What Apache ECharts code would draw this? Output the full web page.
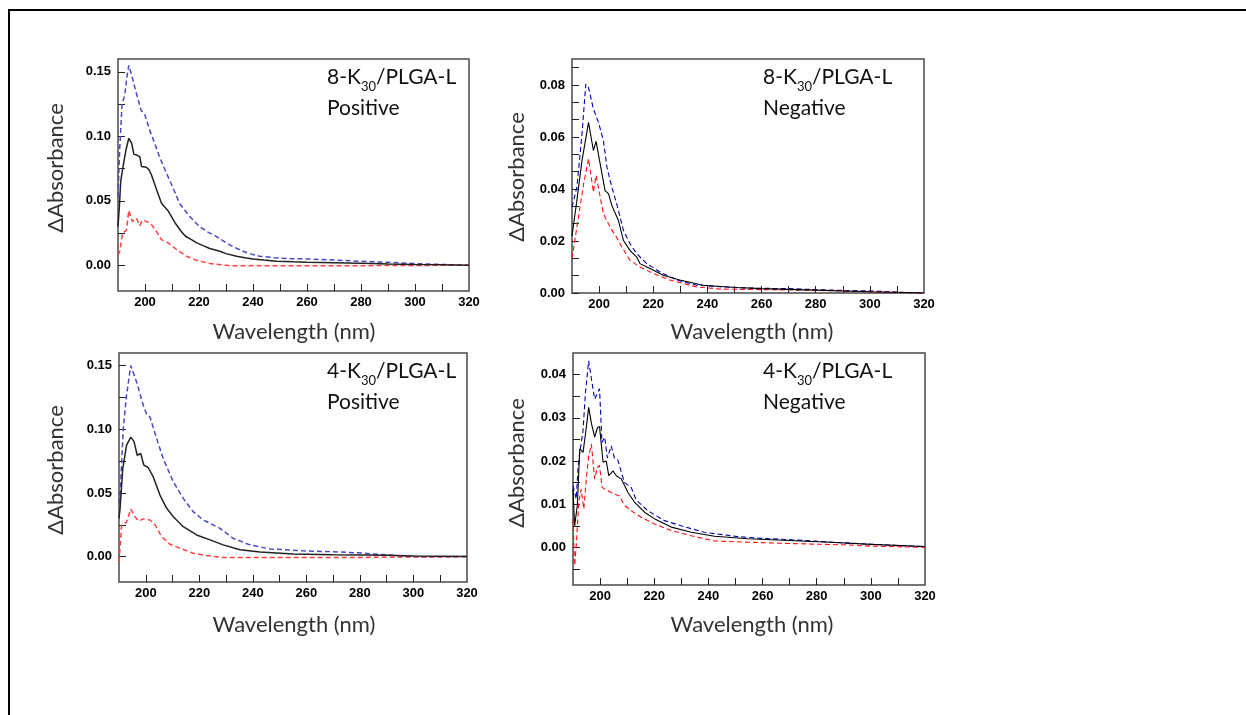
<!DOCTYPE html>
<html>
<head>
<meta charset="utf-8">
<script src="https://cdn.jsdelivr.net/npm/echarts@6/dist/echarts.min.js"></script>
<style>
html,body{margin:0;padding:0;background:#fff;}
#chart{width:1246px;height:715px;}
</style>
</head>
<body>
<div id="chart"></div>
<script>
// ---------- DATA ----------
// x tick / label values (nm)
const xTicks = [200,210,220,230,240,250,260,270,280,290,300,310];
const xLabels = [200,220,240,260,280,300,320];

// y ticks / labels per panel
const yTicksPos = [0,0.025,0.05,0.075,0.1,0.125,0.15];
const yLabelsPos = [0,0.05,0.10,0.15];
const yTicks8Neg = [0,0.00667,0.01333,0.02,0.02667,0.03333,0.04,0.04667,0.05333,0.06,0.06667,0.07333,0.08,0.08667];
const yLabels8Neg = [0,0.02,0.04,0.06,0.08];
const yTicks4Neg = [-0.005,0,0.005,0.01,0.015,0.02,0.025,0.03,0.035,0.04];
const yLabels4Neg = [0,0.01,0.02,0.03,0.04];

// Panel 1: 8-K30/PLGA-L Positive  [wavelength nm, dAbsorbance]
const p1Blue = [[190,0.053],[190.6,0.089],[191.5,0.125],[192.5,0.132],[193.2,0.145],[194,0.155],[195,0.148],[196.2,0.138],[197.5,0.128],[198.6,0.12],[199.9,0.117],[201.7,0.105],[203.5,0.095],[205.4,0.084],[207.2,0.075],[209.1,0.066],[211,0.057],[212.8,0.048],[214.6,0.043],[216.5,0.038],[218.3,0.034],[220.2,0.030],[223,0.026],[226.4,0.0224],[230.1,0.0173],[233,0.014],[236.3,0.0108],[239,0.0088],[242.5,0.007],[248,0.0058],[254.8,0.005],[260,0.0049],[270,0.004],[279.5,0.0031],[289.4,0.0023],[299.3,0.0013],[310,0.0006],[320,0]];
const p1Black = [[190,0.03],[190.5,0.045],[191,0.065],[192,0.078],[193,0.09],[194,0.0985],[195,0.095],[195.9,0.086],[197,0.0855],[198.1,0.084],[198.7,0.0766],[200.5,0.076],[201.5,0.074],[202.4,0.070],[204.3,0.0585],[206.1,0.048],[208.6,0.042],[211.1,0.033],[213.5,0.026],[215,0.0225],[217.2,0.0199],[219,0.0175],[221.5,0.0152],[224,0.013],[227.7,0.0108],[230,0.009],[233.9,0.007],[237,0.0058],[240,0.0049],[244,0.004],[248.7,0.0031],[255,0.0026],[260,0.0023],[270,0.0019],[284.4,0.0013],[290,0.001],[300,0.0006],[310,0.0003],[320,0]];
const p1Red = [[190,0.008],[190.7,0.011],[191.7,0.025],[193.1,0.027],[194,0.0425],[195.3,0.034],[196.8,0.0365],[198.1,0.0307],[199,0.035],[200.5,0.034],[202.4,0.0315],[204.3,0.026],[206.1,0.0199],[208.6,0.0173],[211.7,0.0122],[215.4,0.007],[219.1,0.0038],[224,0.0013],[230,0],[232,-0.0005],[240,-0.0003],[260,-0.0004],[280,-0.0004],[290,-0.0002],[300,-0.0002],[320,0]];

// Panel 2: 8-K30/PLGA-L Negative
const p2Blue = [[190,0.033],[191.8,0.0407],[193.7,0.0612],[195.1,0.0804],[196.1,0.079],[197.9,0.0708],[199.8,0.0656],[201.6,0.0586],[202.9,0.0484],[204.7,0.0407],[206.5,0.0343],[209,0.0241],[211.4,0.019],[213.9,0.0151],[217.6,0.0113],[222.5,0.0081],[228.6,0.005],[236,0.003],[244.5,0.0024],[250,0.0021],[260,0.0018],[270,0.0017],[280,0.0013],[290,0.001],[300,0.0008],[310,0.0004],[315,0.0001],[320,0]];
const p2Black = [[190,0.022],[191.8,0.0356],[193.7,0.051],[196.1,0.0656],[197.9,0.0548],[198.9,0.0583],[200.4,0.0497],[202.2,0.0394],[203.5,0.0381],[204.7,0.0337],[207.1,0.028],[209,0.0202],[211.4,0.0164],[213.9,0.0138],[215.1,0.0113],[218.8,0.0094],[223.7,0.0068],[229.8,0.005],[238.4,0.003],[250.6,0.0021],[260,0.0017],[280,0.0011],[300,0.0005],[320,0]];
const p2Red = [[190,0.0132],[191.8,0.0253],[194.3,0.042],[196.1,0.0516],[197.9,0.0388],[198.9,0.0452],[200.4,0.037],[201.6,0.0305],[204.1,0.0253],[206.5,0.0214],[208.4,0.0177],[211.4,0.0126],[215.1,0.01],[220,0.0075],[226.1,0.005],[236,0.0023],[245,0.0015],[260,0.0013],[280,0.001],[300,0.0005],[320,0]];

// Panel 3: 4-K30/PLGA-L Positive
const p3Blue = [[190,0.042],[190.4,0.048],[191.6,0.1005],[192.8,0.1265],[194.4,0.150],[196.6,0.137],[199.1,0.1187],[200.3,0.112],[201.6,0.1095],[204.1,0.0926],[206.5,0.077],[210.3,0.0587],[214,0.0457],[217.7,0.0353],[221.5,0.0287],[227.7,0.0222],[232.6,0.0144],[238.9,0.0092],[246.4,0.006],[258.8,0.0045],[270,0.0038],[278.7,0.003],[291,0.0012],[297,0.0002],[305,-0.0002],[320,0]];
const p3Black = [[190,0.03],[190.4,0.0379],[191.4,0.069],[192.8,0.0874],[194.4,0.0939],[195.6,0.0905],[196.8,0.0796],[198.1,0.081],[199.3,0.0718],[200.9,0.070],[202.8,0.0626],[205.3,0.0483],[207.8,0.0379],[210.3,0.0313],[214,0.0235],[219,0.017],[224,0.0131],[228.9,0.0092],[235.2,0.0053],[242.7,0.0035],[255.1,0.002],[270,0.0015],[290,0.001],[300,0.0005],[320,0]];
const p3Red = [[190,-0.004],[191,0.0248],[192.8,0.027],[194.4,0.0373],[196,0.0313],[197.3,0.0279],[199.1,0.0296],[201.6,0.0287],[203.5,0.0248],[205.9,0.0157],[209,0.0097],[212.7,0.0066],[217.7,0.0026],[222.7,0.0008],[228.9,-0.0008],[260,-0.0008],[290,-0.0006],[300,-0.0003],[310,-0.0003],[320,0]];

// Panel 4: 4-K30/PLGA-L Negative
const p4Blue = [[190,0.0143],[191.2,0.0112],[191.9,0.0189],[192.5,0.022],[193.7,0.027],[194.6,0.0359],[195.8,0.0432],[196.8,0.039],[198,0.0343],[199.8,0.0367],[200.7,0.0243],[201.7,0.0255],[202.7,0.0207],[204.1,0.0235],[205.3,0.0207],[206.5,0.0203],[209,0.015],[211.5,0.0139],[213.3,0.011],[217.6,0.0085],[223.8,0.0062],[229.9,0.005],[238.5,0.0035],[250.8,0.0025],[259.4,0.0021],[269.8,0.0018],[285.8,0.0012],[298.1,0.0008],[310.4,0.0004],[320,0.0002]];
const p4Black = [[190,0.0135],[190.6,0.005],[191.6,0.0097],[192.5,0.0228],[193.7,0.022],[194.6,0.0262],[195.8,0.0324],[196.8,0.0287],[198,0.0255],[199,0.0277],[199.8,0.028],[201.1,0.0197],[202.3,0.02],[203.2,0.0166],[204.8,0.0177],[206,0.0166],[207.9,0.0158],[210.3,0.0127],[212.8,0.0104],[216.5,0.0081],[220.2,0.0066],[226.3,0.0047],[233.7,0.0035],[242.3,0.0026],[254.6,0.002],[270,0.0016],[285,0.0012],[300,0.0007],[320,0.0002]];
const p4Red = [[190,0.0066],[190.6,-0.0042],[191.2,0.0004],[192.1,0.0102],[193,0.0135],[194,0.0089],[194.9,0.0158],[195.8,0.0212],[196.8,0.0239],[198,0.0158],[199,0.0185],[199.8,0.019],[200.7,0.0139],[201.7,0.0135],[204.1,0.0127],[207.2,0.0119],[209,0.0097],[211.5,0.0085],[215.1,0.007],[220.2,0.0054],[226.3,0.0039],[233.7,0.0027],[242.3,0.0015],[254.6,0.0012],[270,0.0009],[290,0.0006],[300,0.0003],[320,0]];

const titles = [
  {code:'8', mode:'Positive'},
  {code:'8', mode:'Negative'},
  {code:'4', mode:'Positive'},
  {code:'4', mode:'Negative'}
];

// ---------- LAYOUT ----------
const grids = [
  {left:118, top:59, width:351, height:232},
  {left:572, top:59, width:352, height:234},
  {left:119, top:353, width:348, height:229},
  {left:573, top:353, width:352, height:232}
];
const yRanges = [[-0.02,0.16],[0,0.09],[-0.02,0.16],[-0.0087,0.045]];
const yTickSets = [yTicksPos, yTicks8Neg, yTicksPos, yTicks4Neg];
const yLabelSets = [yLabelsPos, yLabels8Neg, yLabelsPos, yLabels4Neg];
const seriesSets = [[p1Blue,p1Black,p1Red],[p2Blue,p2Black,p2Red],[p3Blue,p3Black,p3Red],[p4Blue,p4Black,p4Red]];
const palette = [
  {blue:'#4848c8', black:'#222', red:'#ff4040', w:1.5},
  {blue:'#0000b4', black:'#000', red:'#ff1010', w:1.1},
  {blue:'#4848c8', black:'#222', red:'#ff4040', w:1.5},
  {blue:'#0000b4', black:'#000', red:'#ff1010', w:1.1}
];
const tickFont = {fontFamily:'Liberation Sans', fontWeight:'bold', fontSize:13, color:'#000'};
const titleFont = 'Lato';

const option = {
  animation:false,
  backgroundColor:'#fff',
  grid: grids.map(g => Object.assign({show:true, borderColor:'#4a4a4a', borderWidth:1.5, backgroundColor:'transparent'}, g)),
  xAxis: grids.map((g,i) => ({
    type:'value', gridIndex:i, min:190, max:320,
    axisLine:{show:false, onZero:false},
    splitLine:{show:false},
    axisTick:{show:true, inside:true, length:7, lineStyle:{color:'#222', width:1}, customValues:xTicks},
    axisLabel:Object.assign({show:true, margin:5, customValues:xLabels, formatter:v=>String(Math.round(v))}, tickFont)
  })),
  yAxis: grids.map((g,i) => ({
    type:'value', gridIndex:i, min:yRanges[i][0], max:yRanges[i][1],
    axisLine:{show:false, onZero:false},
    splitLine:{show:false},
    axisTick:{show:true, inside:true, length:7, lineStyle:{color:'#222', width:1}, customValues:yTickSets[i]},
    axisLabel:Object.assign({show:true, margin:7, customValues:yLabelSets[i], formatter:v=>v.toFixed(2)}, tickFont)
  })),
  series: [],
  graphic: []
};

seriesSets.forEach((set,i) => {
  const p = palette[i];
  const defs = [
    {data:set[0], color:p.blue, type:[5,3]},
    {data:set[1], color:p.black, type:'solid'},
    {data:set[2], color:p.red, type:[5,3]}
  ];
  defs.forEach(d => {
    option.series.push({
      type:'line', xAxisIndex:i, yAxisIndex:i, data:d.data,
      showSymbol:false, symbol:'none', silent:true,
      lineStyle:{color:d.color, width:p.w, type:d.type},
      z: d.type==='solid' ? 3 : 2
    });
  });
});

// outer frame
option.graphic.push(
  {type:'line', shape:{x1:8, y1:10, x2:1246, y2:10}, style:{stroke:'#000', lineWidth:2}},
  {type:'line', shape:{x1:9, y1:9, x2:9, y2:715}, style:{stroke:'#000', lineWidth:2}}
);

// text positions
const yTitlePos = [[56,168],[517,177],[56,470],[517,463]];
const xTitlePos = [[294,332],[752,332],[294,625],[752,625]];
const annPos = [[327,62],[763,62],[327,356],[763,356]];

titles.forEach((t,i) => {
  option.graphic.push({
    type:'text', x:yTitlePos[i][0], y:yTitlePos[i][1], rotation:Math.PI/2,
    style:{text:'\u0394Absorbance', fill:'#333', font:'22px '+titleFont, align:'center', verticalAlign:'middle'}
  });
  option.graphic.push({
    type:'text', x:xTitlePos[i][0], y:xTitlePos[i][1],
    style:{text:'Wavelength (nm)', fill:'#333', font:'22px '+titleFont, align:'center', verticalAlign:'middle'}
  });
  option.graphic.push({
    type:'text', x:annPos[i][0], y:annPos[i][1],
    style:{
      text:'{n|'+t.code+'-K}{s|30}{n|/PLGA-L}\n{n|'+t.mode+'}',
      align:'left', verticalAlign:'top',
      rich:{
        n:{fontFamily:titleFont, fontSize:21, fill:'#111', lineHeight:31, verticalAlign:'middle'},
        s:{fontFamily:titleFont, fontSize:13, fill:'#111', lineHeight:31, verticalAlign:'bottom'}
      }
    }
  });
});

const chart = echarts.init(document.getElementById('chart'), null, {renderer:'canvas'});
chart.setOption(option);
</script>
</body>
</html>
